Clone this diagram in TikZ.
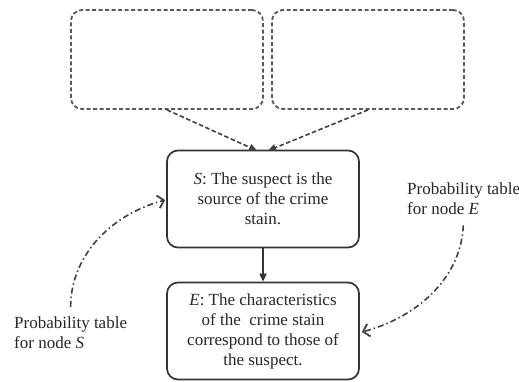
\documentclass[tikz,border=0pt]{standalone}
\usepackage{fontspec}
\setmainfont{Liberation Serif}
\usetikzlibrary{arrows.meta}
\begin{document}
\begin{tikzpicture}[x=1pt,y=-1pt,
  every node/.style={font=\fontsize{17}{20}\selectfont, text=black!85},
  solidbox/.style={draw=black!80, line width=1.7pt, rounded corners=11pt,
    minimum width=192pt, minimum height=97pt, align=center, inner sep=0pt},
  dashbox/.style={draw=black!65, line width=1.8pt, rounded corners=11pt,
    dash pattern=on 4pt off 2.5pt, minimum width=192pt, minimum height=99pt, inner sep=0pt},
  dasharrow/.style={draw=black!75, line width=1.6pt, dash pattern=on 4.5pt off 2.5pt,
    -{Triangle[length=8pt,width=7pt]}},
  solidarrow/.style={draw=black!80, line width=1.5pt, -{Triangle[length=8pt,width=7pt]}},
  dotarrow/.style={draw=black!75, line width=1.6pt,
    dash pattern=on 6pt off 3pt on 1.5pt off 3pt,
    -{Straight Barb[length=6pt,width=13pt,line width=1.8pt]}},
  lbl/.style={align=left, inner sep=0pt}
]
\useasboundingbox (0,0) rectangle (519,381);
\node[dashbox] (d1) at (167,59.5) {};
\node[dashbox] (d2) at (368,59.5) {};
\node[solidbox] (S) at (263,199) {\textit{S}: The suspect is the\\source of the crime\\stain.};
\node[solidbox] (E) at (263,331) {\textit{E}: The characteristics\\of the \ crime stain\\correspond to those of\\the suspect.};
\node[lbl, anchor=north west] (lS) at (14,316) {Probability table\\for node \textit{S}};
\node[lbl, anchor=north west] (lE) at (407,182) {Probability table\\for node \textit{E}};
\draw[dasharrow] (d1.south) -- ([xshift=-6pt,yshift=-1pt]S.north);
\draw[dasharrow] (d2.south) -- ([xshift=5pt,yshift=-1pt]S.north);
\draw[solidarrow] (S.south) -- (E.north);
\draw[dotarrow, shorten <=9pt] (lS.north) to[out=90,in=195] ([xshift=-1pt]S.west |- 0,200);
\draw[dotarrow, shorten <=11pt] (lE.south) to[out=-92,in=15] ([xshift=2pt]E.east |- 0,332);
\end{tikzpicture}
\end{document}
